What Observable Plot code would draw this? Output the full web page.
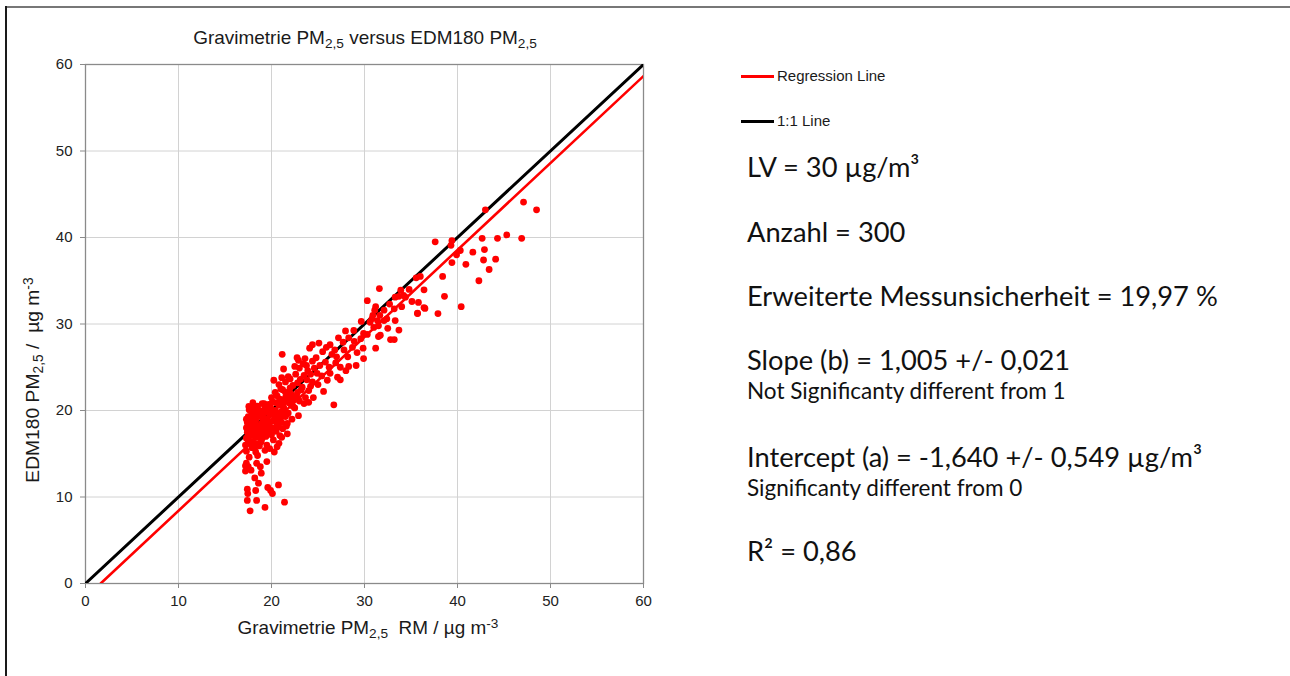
<!DOCTYPE html>
<html>
<head>
<meta charset="utf-8">
<script src="https://cdn.jsdelivr.net/npm/d3@7"></script>
<script src="https://cdn.jsdelivr.net/npm/@observablehq/plot@0.6"></script>
<style>
  html, body { margin: 0; padding: 0; background: #fff; }
  #wrap { position: relative; width: 1290px; height: 676px; overflow: hidden; background: #fff; }
  #wrap > svg { position: absolute; left: 0; top: 0; }
  .t { position: absolute; white-space: nowrap; line-height: 1; }
  .sub { position: relative; top: 0.28em; font-size: 0.72em; }
  .sup { position: relative; top: -0.45em; font-size: 0.72em; }
  .line { position: absolute; }
</style>
</head>
<body>
<div id="wrap"></div>
<script>
// ---------- data ----------
// low outliers
const gravA = [17.4,17.45,17.4,17.7,18.3,18.4,19.3,19.6,19.9,20.1,20.75,21.4,17.3,17.5,17.8,17.2,18.4,18.8,19.5,18.2,18.6,18.9,18.3,18.5,17.3,17.6,19.8,17.2];
const edmA  = [10.9,10.4,9.6,8.4,10.75,9.6,8.8,11.1,10.75,10.4,11.4,9.4,13.9,13.5,13.1,13.0,13.9,13.5,14.1,12.2,11.6,12.75,15.2,14.8,15.3,14.6,15.6,13.6];
// dense cluster
const gravB = [17.2,17.3,17.4,17.3,17.5,17.4,17.6,17.5,17.7,17.8,17.9,18.0,18.1,18.0,18.2,18.3,18.4,18.5,18.3,18.6,
  18.7,18.8,18.9,19.0,19.1,19.0,19.2,19.3,19.4,19.5,19.6,19.7,19.8,19.9,20.0,20.1,20.2,20.3,20.4,20.5,
  20.6,20.7,20.8,20.9,21.0,21.1,21.2,21.3,21.4,21.5,17.6,17.8,18.1,18.5,19.2,18.2,18.9,19.5,20.2,20.8,
  21.6,21.8,21.9,22.0,17.9,18.7,19.3,20.6,21.1,17.3,17.5,18.4,19.7,20.0,20.4,21.2,20.9,19.4,18.6,17.7,
  22.2,22.5,21.7,20.3,18.0,
  17.4,17.6,18.0,18.3,18.8,19.1,19.6,20.0,20.3,20.7,21.0,21.4,19.8,18.5,17.9,20.5,21.9,22.7,20.1,19.4,18.2,17.8,21.6,20.8,19.0,22.3,23.2,21.1];
const edmB  = [16.0,16.8,17.5,18.0,18.4,17.9,18.8,19.3,17.2,16.4,17.8,18.3,19.0,19.6,17.0,16.2,17.6,18.2,18.9,19.4,
  20.0,17.4,18.0,18.6,19.2,16.8,17.5,20.2,18.3,19.0,17.8,18.5,19.5,20.4,17.2,18.0,18.8,19.4,20.0,17.6,
  18.4,19.1,20.6,21.3,19.8,18.6,17.9,20.4,21.0,19.3,20.1,19.9,20.4,20.5,20.8,15.8,16.4,16.0,16.6,16.2,
  18.2,19.7,20.9,21.6,15.7,15.9,15.4,15.8,16.9,19.0,16.3,19.7,20.7,21.5,22.1,22.4,17.1,17.0,16.9,18.5,
  19.0,20.3,17.3,15.2,20.9,
  18.6,17.0,17.4,18.5,19.3,18.0,18.9,19.7,17.9,18.1,19.2,19.9,17.4,17.9,19.3,20.9,22.2,21.7,21.0,19.8,18.0,18.9,21.2,19.6,19.9,20.5,22.4,23.8];
// band 20–30
const gravC = [21.15,22.75,22.9,24.4,25.2,23.76,23.0,21.3,27.4,28.3,29.1,26.3,27.1,27.4,22.0,23.5,24.2,24.9,20.25,21.5,
  22.8,23.8,24.4,23.3,22.0,21.0,21.5,22.8,24.0,25.6,20.6,21.5,22.4,23.65,24.5,23.5,24.0,26.7,22.0,21.0,
  19.0,17.56,18.46,19.5,21.3,21.7,22.9,20.6,21.7,
  24.4,24.1,26.3,25.9,26.8,27.8,28.7,29.85,29.2,26.5,27.0,28.2,29.9,27.2,28.3,29.6,27.96,28.85,29.9,29.65,
  22.3,23.1,23.9,24.6,25.4,25.8,26.0,22.6,23.4,24.8,25.5,26.9,28.0,25.0,24.2,22.1,23.0,26.2,27.7,28.9,
  21.8,20.8,22.5,23.6,25.1];
const edmC  = [26.5,26.1,25.8,25.7,25.2,25.2,24.9,24.8,25.0,25.1,25.2,24.3,23.85,23.55,23.65,24.05,24.2,24.3,23.5,23.3,
  23.2,23.55,23.3,22.7,22.6,22.5,22.1,22.1,22.3,22.2,21.7,21.5,21.35,21.5,21.5,20.8,20.95,20.66,20.8,20.8,
  20.8,20.46,20.0,20.2,20.2,19.6,19.4,19.0,18.5,
  27.6,27.2,27.6,27.3,27.0,27.0,27.3,27.2,26.7,26.5,26.2,26.2,26.0,28.4,28.4,28.3,29.2,29.25,28.9,30.3,
  22.9,23.6,24.6,24.9,24.0,25.6,23.5,24.2,25.4,26.1,26.8,25.5,24.6,23.0,22.8,21.9,21.1,25.0,27.9,28.0,
  23.9,23.0,25.1,26.0,27.8];
// band 30–37
const gravD = [35.56,36.4,33.9,34.2,33.3,35.1,35.8,36.4,35.7,30.3,31.2,32.1,31.1,31.65,32.4,32.1,31.4,30.6,33.3,31.0,
  31.5,33.7,31.5,32.8,33.2,31.2,31.6,33.7,34.4,33.2,36.5,35.7,30.8,30.3,31.7,34.0,32.7,30.9,32.5,34.8];
const edmD  = [35.34,33.95,33.9,33.3,33.1,32.6,32.5,31.9,31.25,32.7,32.0,31.6,31.6,31.0,30.6,30.4,30.4,30.2,30.4,29.6,
  29.8,29.3,28.55,28.2,28.2,27.2,34.1,33.2,33.1,31.75,31.8,31.2,30.6,28.8,28.7,32.0,32.3,31.0,29.5,34.0];
// upper values
const gravE = [47.1,43.0,37.6,39.4,39.3,42.65,44.3,45.3,46.9,42.9,41.65,40.3,39.9,39.4,40.9,42.8,44.1,43.4,38.4,42.3,38.6,40.4,37.9,48.5,36.0];
const edmE  = [44.1,43.2,39.5,39.65,39.1,39.9,39.9,40.3,39.9,38.6,38.3,38.5,38.0,37.1,36.9,37.4,37.5,36.3,35.5,35.0,33.2,32.0,31.2,43.2,35.5];

const slope = 1.005;
const intercept = -1.640;
const axisMax = 60;
const xTicks = [0, 10, 20, 30, 40, 50, 60];
const yTicks = [0, 10, 20, 30, 40, 50, 60];

const legendLabels = ["Regression Line", "1:1 Line"];
const statLines = [
  "LV = 30 µg/m³",
  "Anzahl = 300",
  "Erweiterte Messunsicherheit = 19,97 %",
  "Slope (b) = 1,005 +/- 0,021",
  "Intercept (a) = -1,640 +/- 0,549 µg/m³",
  "R² = 0,86"
];
const noteLines = ["Not Significanty different from 1", "Significanty different from 0"];

// ---------- build ----------
const gx = [...gravA, ...gravB, ...gravC, ...gravD, ...gravE];
const ey = [...edmA, ...edmB, ...edmC, ...edmD, ...edmE];
const points = gx.map((x, i) => ({x, y: ey[i]}));
const xStart = -intercept / slope;
const regression = [xStart, axisMax].map(x => ({x, y: intercept + slope * x}));
const identity = [0, axisMax].map(v => ({x: v, y: v}));

const chart = Plot.plot({
  width: 700,
  height: 640,
  marginLeft: 85,
  marginRight: 57,
  marginTop: 64,
  marginBottom: 57,
  x: {domain: [0, axisMax]},
  y: {domain: [0, axisMax]},
  style: {fontFamily: "'Liberation Sans', Arial, sans-serif", fontSize: "15px", color: "#222", background: "transparent", overflow: "visible"},
  marks: [
    Plot.gridX(xTicks, {stroke: "#d2d2d2", strokeOpacity: 1, strokeWidth: 1}),
    Plot.gridY(yTicks, {stroke: "#d2d2d2", strokeOpacity: 1, strokeWidth: 1}),
    Plot.frame({stroke: "#8a8a8a", strokeWidth: 1.3}),
    Plot.axisX(xTicks, {label: null, tickSize: 5, tickPadding: 7, stroke: "#8a8a8a", fill: "#222", fontSize: 15}),
    Plot.axisY(yTicks, {label: null, tickSize: 5, tickPadding: 8, stroke: "#8a8a8a", fill: "#222", fontSize: 15}),
    Plot.line(identity, {x: "x", y: "y", stroke: "#000", strokeWidth: 3, clip: true}),
    Plot.line(regression, {x: "x", y: "y", stroke: "#ff0000", strokeWidth: 2.6, clip: true}),
    Plot.dot(points, {x: "x", y: "y", r: 3.4, fill: "#ff0000", stroke: "none"})
  ]
});

const wrap = document.getElementById("wrap");
wrap.appendChild(chart);

// outer border lines
function addLine(left, top, w, h, color) {
  const d = document.createElement("div");
  d.className = "line";
  Object.assign(d.style, {left: left + "px", top: top + "px", width: w + "px", height: h + "px", background: color});
  wrap.appendChild(d);
  return d;
}
addLine(6, 6, 1284, 2, "#777");
addLine(5, 6, 2, 670, "#1a1a1a");

const ARIAL = "'Liberation Sans', Arial, sans-serif";
const GEO = "Lato, 'Noto Sans', sans-serif";
const K = {[ARIAL]: 0.8465, [GEO]: 0.887};

function addText(html, x, baseline, size, family, opts = {}) {
  const d = document.createElement("div");
  d.className = "t";
  d.innerHTML = html;
  d.style.fontFamily = family;
  d.style.fontSize = size + "px";
  d.style.color = opts.color || "#111";
  d.style.left = x + "px";
  d.style.top = (baseline - K[family] * size) + "px";
  wrap.appendChild(d);
  if (opts.fitWidth) {
    const w = d.getBoundingClientRect().width;
    const s = size * opts.fitWidth / w;
    d.style.fontSize = s + "px";
    d.style.top = (baseline - K[family] * s) + "px";
  }
  if (opts.anchor === "middle") d.style.transform = "translateX(-50%)";
  return d;
}

// title
addText('Gravimetrie PM<span class="sub">2,5</span> versus EDM180 PM<span class="sub">2,5</span>', 365, 44, 16, ARIAL, {anchor: "middle", color: "#1a1a1a", fitWidth: 344});
// x label
addText('Gravimetrie PM<span class="sub">2,5</span>&nbsp; RM / µg m<span class="sup">-3</span>', 368, 635, 17, ARIAL, {anchor: "middle", color: "#1a1a1a", fitWidth: 261});
// y label (rotated)
{
  const d = document.createElement("div");
  d.className = "t";
  d.innerHTML = 'EDM180 PM<span class="sub">2,5</span> / &nbsp;µg m<span class="sup">-3</span>';
  d.style.fontFamily = ARIAL;
  d.style.fontSize = "17px";
  d.style.color = "#1a1a1a";
  wrap.appendChild(d);
  const w = d.offsetWidth;
  const s = 17 * 205 / w;
  d.style.fontSize = s + "px";
  d.style.left = "33px";
  d.style.top = "380px";
  d.style.transform = "translate(-50%, -50%) rotate(-90deg)";
}

// legend
const legendColors = ["#ff0000", "#000"];
const legendY = [76, 121];
legendLabels.forEach((lab, i) => {
  addLine(741, legendY[i] - 1.5, 33, 3, legendColors[i]);
  addText(lab, 777, legendY[i] + 5, 15, ARIAL, {color: "#1a1a1a"});
});

// statistics text
const statBaselines = [177, 242, 306, 370, 467, 561];
const calib = document.createElement("div");
calib.className = "t";
calib.style.fontFamily = GEO;
calib.style.fontSize = "27px";
calib.style.visibility = "hidden";
calib.textContent = statLines[2];
wrap.appendChild(calib);
const bigSize = 27 * 471 / calib.getBoundingClientRect().width;
calib.style.fontSize = "19px";
calib.textContent = noteLines[0];
const smallSize = 19 * 319 / calib.getBoundingClientRect().width;
calib.remove();

statLines.forEach((s, i) => addText(s, 747, statBaselines[i], bigSize, GEO, {color: "#111"}));
const noteBaselines = [400, 497];
noteLines.forEach((s, i) => addText(s, 747, noteBaselines[i], smallSize, GEO, {color: "#111"}));
</script>
</body>
</html>
